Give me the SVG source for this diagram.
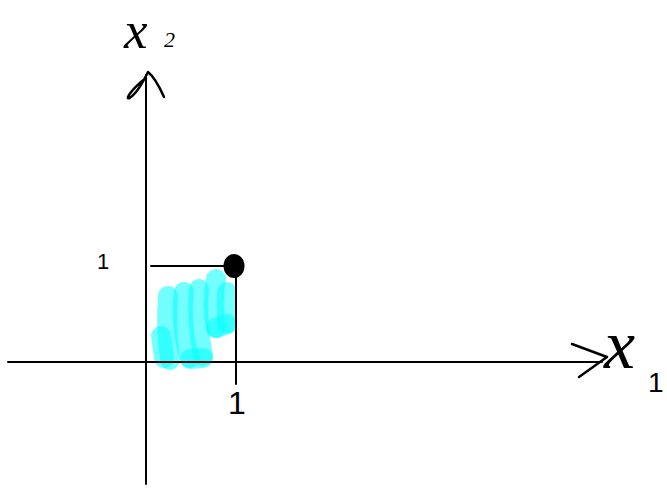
<svg xmlns="http://www.w3.org/2000/svg" width="667" height="489" viewBox="0 0 667 489">
<style>
.ax{stroke:#000;stroke-width:2;fill:none;stroke-linecap:round;stroke-linejoin:round}
.ink{stroke:#000;stroke-width:2.5;fill:none;stroke-linecap:round;stroke-linejoin:round}
.hl{stroke:#00FFFF;stroke-opacity:0.55;stroke-width:20;fill:none;stroke-linecap:round;stroke-linejoin:round}
.lbl{font-family:"Liberation Serif",serif;font-style:italic;fill:#000}
.num{font-family:"Liberation Sans",sans-serif;fill:#000}
</style>
<rect width="667" height="489" fill="#fff"/>
<g id="shade">
<path class="hl" d="M161,336 L164,358"/>
<path class="hl" d="M168,296 C166,320 168,345 170,360"/>
<path class="hl" d="M184,292 C181,315 184,342 190,358"/>
<path class="hl" d="M199,289 C197,310 199,335 203,356"/>
<path class="hl" d="M190,359 L203,358"/>
<path class="hl" d="M216,279 C213,295 213,312 216,328"/>
<path class="hl" d="M227,292 L227,324"/>
<path class="hl" d="M216,328 L227,324"/>
</g>
<g id="connectors">
<path id="y-axis" class="ax" d="M146,484 L146,75"/>
<path id="y-arrow" class="ink" d="M146,78 C140,82 130,92 128,97 C127,100 131,98 136,92 C141,86 145,78 148,72 C153,76 160,88 164,97"/>
<path id="x-axis" class="ax" d="M8,362 L602,362"/>
<path id="x-arrow" class="ink" d="M572,344 L607,357 L579,377"/>
<path id="h-line" class="ax" d="M151,266 L233,266"/>
<path id="v-line" class="ax" d="M236,266 L236,384"/>
</g>
<g id="point">
<ellipse cx="234" cy="266" rx="10.5" ry="12" fill="#000"/>
</g>
<g id="label-x2">
<text class="lbl" x="124" y="48" font-size="53">x</text>
<text class="lbl" x="164" y="47" font-size="22">2</text>
</g>
<g id="label-x1">
<text class="lbl" x="604" y="368" font-size="70">x</text>
<text class="num" x="648" y="392" font-size="28">1</text>
</g>
<g id="tick-y">
<text class="num" x="97" y="269" font-size="22">1</text>
</g>
<g id="tick-x">
<text class="num" x="228" y="414" font-size="32">1</text>
</g>
</svg>
